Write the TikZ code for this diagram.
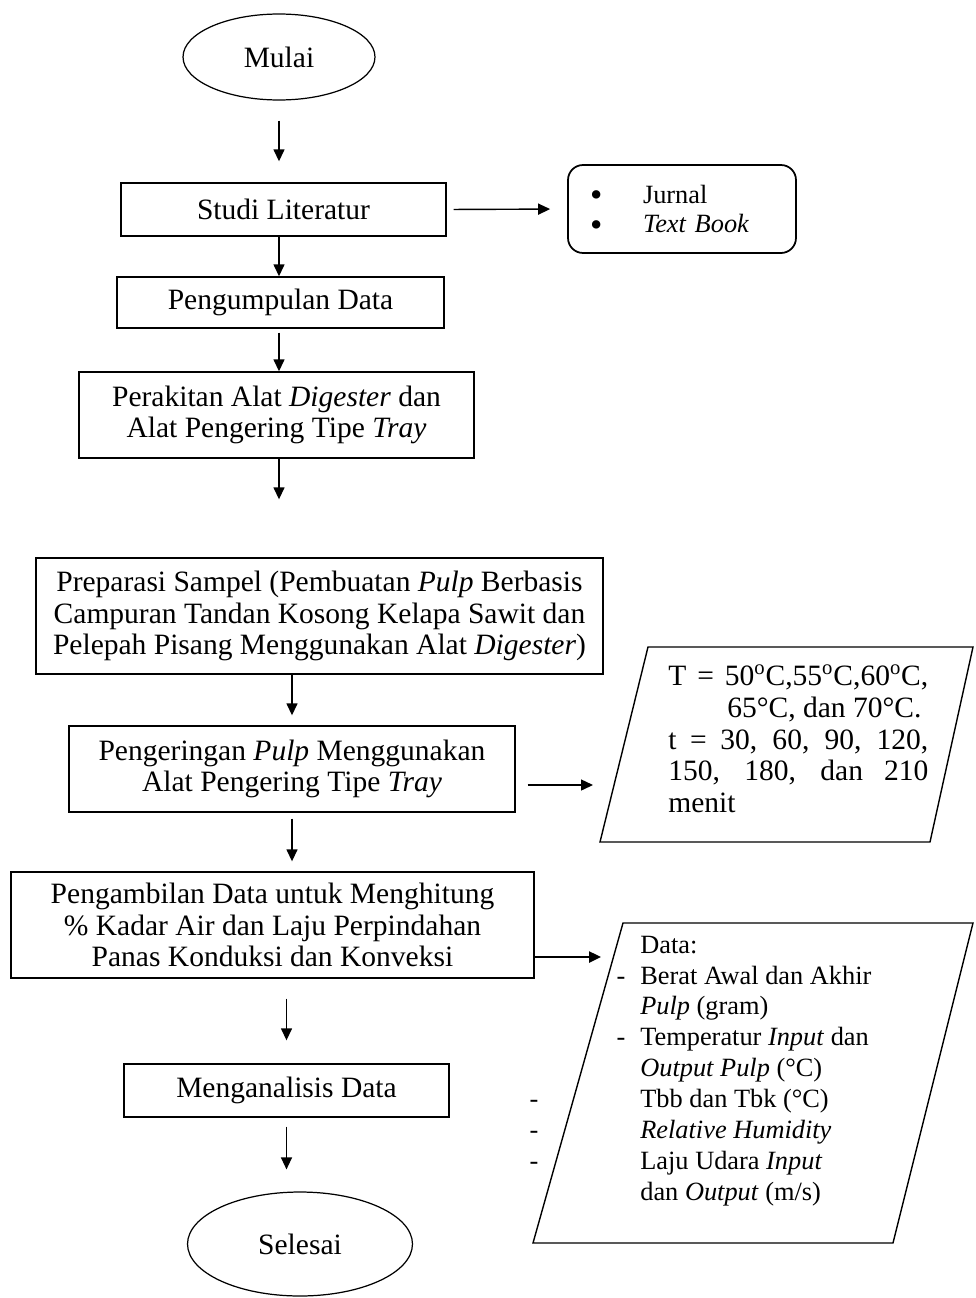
\documentclass[tikz,border=0pt]{standalone}
\usepackage{fontspec}
\setmainfont{Liberation Serif}
\usetikzlibrary{arrows.meta}
\usetikzlibrary{shapes.geometric}

\newcommand{\titikbesar}{\makebox[1.06cm][l]{\smash{\raisebox{-2pt}{\fontsize{20}{20}\selectfont\textbullet}}}}

\begin{document}
\begin{tikzpicture}[x=0.02cm,y=-0.02cm,
    every node/.style={font=\fontsize{16.8}{18}\selectfont},
    proses/.style={draw,line width=0.8pt,align=center,inner sep=0pt},
    terminal/.style={draw,ellipse,line width=0.7pt,inner sep=0pt},
    arr/.style={-{Triangle[length=0.24cm,width=0.22cm]},line width=0.8pt}]
        \useasboundingbox (0,0) rectangle (975,1298);

        % alur utama
        \node[terminal,minimum width=3.84cm,minimum height=1.72cm] (mulai) at (279,57) {Mulai};
        \node[proses,minimum width=6.5cm,minimum height=1.06cm] (studi) at (283.5,209.5) {Studi Literatur};
        \node[proses,minimum width=6.54cm,minimum height=1.02cm] (kumpul) at (280.5,302.5) {Pengumpulan Data};
        \node[proses,minimum width=7.9cm,minimum height=1.72cm] (rakit) at (276.5,415) {Perakitan Alat \textit{Digester} dan\\Alat Pengering Tipe \textit{Tray}};
        \node[proses,minimum width=11.34cm,minimum height=2.32cm] (prep) at (319.5,616) {Preparasi Sampel (Pembuatan \textit{Pulp} Berbasis\\Campuran Tandan Kosong Kelapa Sawit dan\\Pelepah Pisang Menggunakan Alat \textit{Digester})};
        \node[proses,minimum width=8.92cm,minimum height=1.72cm] (peng) at (292,769) {Pengeringan \textit{Pulp} Menggunakan\\Alat Pengering Tipe \textit{Tray}};
        \node[proses,minimum width=10.46cm,minimum height=2.12cm] (ambil) at (272.5,925) {Pengambilan Data untuk Menghitung\\\% Kadar Air dan Laju Perpindahan\\Panas Konduksi dan Konveksi};
        \node[proses,minimum width=6.5cm,minimum height=1.06cm] (analisis) at (286.5,1090.5) {Menganalisis Data};
        \node[terminal,minimum width=4.5cm,minimum height=2.08cm] (selesai) at (300,1244) {Selesai};

        % sumber literatur
        \node[draw,rounded corners=0.3cm,line width=1pt,minimum height=1.76cm,text width=3.68cm,inner xsep=0.44cm,inner ysep=0pt,align=left,font=\fontsize{15}{17}\selectfont] (jurnal) at (682,209) {\titikbesar Jurnal\\\titikbesar\textit{Text Book}};

        % variabel
        \draw[line width=0.8pt] (648,647) -- (973,647) -- (930,842) -- (600,842) -- cycle;
        \node[anchor=west,align=left,inner sep=0pt] (variabel) at (668,739) {\makebox[5.2cm][s]{T = 50\textsuperscript{o}C,55\textsuperscript{o}C,60\textsuperscript{o}C,}\\\hspace*{1.18cm}65°C, dan 70°C.\\\makebox[5.2cm][s]{t = 30, 60, 90, 120,}\\\makebox[5.2cm][s]{150, 180, dan 210}\\menit};
        \coordinate (p1in) at (593,785);

        % data yang diambil
        \draw[line width=0.8pt] (623,923) -- (973,923) -- (893,1243) -- (533,1243) -- cycle;
        \node[anchor=west,align=left,inner sep=0pt,font=\fontsize{15}{17.6}\selectfont] (data) at (640,1071) {Data:\\\llap{-\hspace{0.3cm}}Berat Awal dan Akhir\\\textit{Pulp} (gram)\\\llap{-\hspace{0.3cm}}Temperatur \textit{Input} dan\\\textit{Output Pulp} (°C)\\\llap{-\hspace{2.04cm}}Tbb dan Tbk (°C)\\\llap{-\hspace{2.04cm}}\textit{Relative Humidity}\\\llap{-\hspace{2.04cm}}Laju Udara \textit{Input}\\dan \textit{Output} (m/s)};
        \coordinate (p2in) at (601,957);

        % panah
        \draw[arr,shorten <=0.4cm,shorten >=0.42cm] (mulai.south) -- (mulai.south |- studi.north);
        \draw[arr] (studi.south -| mulai.south) -- (kumpul.north -| mulai.south);
        \draw[arr,shorten <=0.08cm] (kumpul.south -| mulai.south) -- (rakit.north -| mulai.south);
        \draw[arr,shorten >=1.16cm] (rakit.south -| mulai.south) -- (prep.north -| mulai.south);
        \draw[arr,shorten >=0.2cm] (prep.south -| peng.north) -- (peng.north);
        \draw[arr,shorten <=0.12cm,shorten >=0.2cm] (peng.south) -- (peng.south |- ambil.north);
        \draw[arr,shorten <=0.4cm,shorten >=0.46cm] (analisis.north |- ambil.south) -- (analisis.north);
        \draw[arr,shorten <=0.18cm,shorten >=0.44cm] (analisis.south) -- (analisis.south |- selesai.north);
        \draw[arr,shorten <=0.14cm,shorten >=0.34cm] (studi.east) -- (jurnal.west);
        \draw[arr,shorten <=0.24cm] (peng.east |- p1in) -- (p1in);
        \draw[arr,line width=1.4pt] (ambil.east |- p2in) -- (p2in);
\end{tikzpicture}
\end{document}
